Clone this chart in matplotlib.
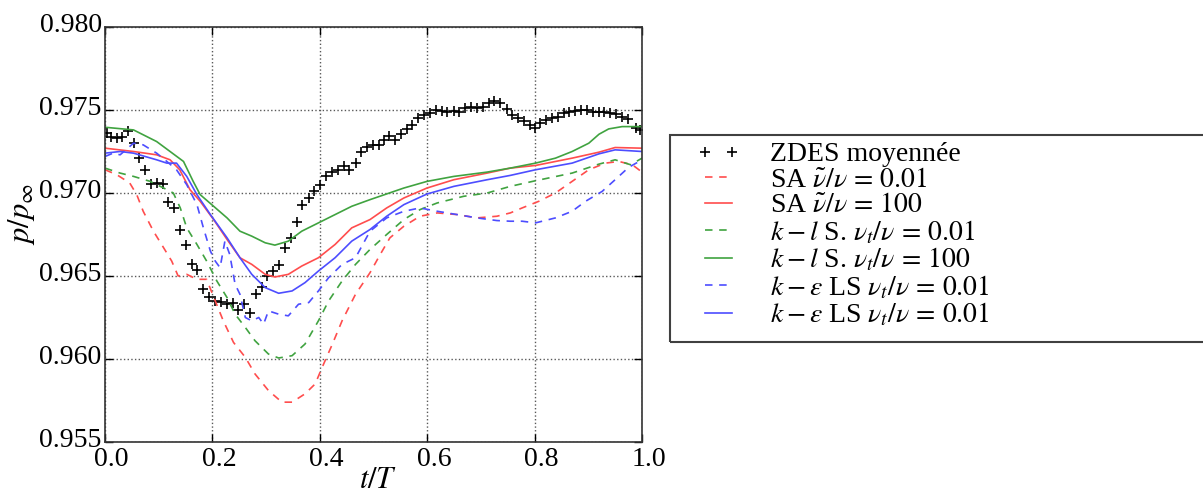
import matplotlib
matplotlib.use("Agg")
import matplotlib.pyplot as plt
import matplotlib.transforms as mtransforms
from matplotlib.patches import Rectangle

plt.rcParams['font.family'] = 'serif'
plt.rcParams['font.serif'] = ['Liberation Serif', 'DejaVu Serif']
plt.rcParams['mathtext.fontset'] = 'stix'

# ZDES averaged (markers)
t_zdes = [0.004, 0.013, 0.023, 0.032, 0.044, 0.054, 0.065, 0.075, 0.086, 0.097,
          0.108, 0.119, 0.129, 0.141, 0.152, 0.163, 0.173, 0.184, 0.195, 0.206,
          0.216, 0.227, 0.239, 0.249, 0.260, 0.271, 0.282, 0.293, 0.303, 0.314,
          0.325, 0.336, 0.347, 0.358, 0.368, 0.380, 0.390, 0.401, 0.412, 0.423,
          0.434, 0.445, 0.455, 0.467, 0.477, 0.488, 0.499, 0.510, 0.520, 0.530,
          0.541, 0.552, 0.563, 0.573, 0.584, 0.595, 0.606, 0.617, 0.628, 0.638,
          0.650, 0.660, 0.671, 0.682, 0.693, 0.704, 0.715, 0.725, 0.736, 0.749,
          0.758, 0.769, 0.780, 0.791, 0.800, 0.811, 0.822, 0.833, 0.843, 0.854,
          0.865, 0.876, 0.887, 0.898, 0.908, 0.920, 0.930, 0.941, 0.952, 0.963,
          0.974, 0.988, 0.997]
p_zdes = [0.9736, 0.9734, 0.97334, 0.9734, 0.97374, 0.9730, 0.9721, 0.9714, 0.97054, 0.9706,
          0.97054, 0.96946, 0.9691, 0.9678, 0.96684, 0.96574, 0.96534, 0.9642, 0.96374, 0.9635,
          0.96346, 0.96334, 0.9634, 0.96294, 0.96334, 0.9628, 0.9639, 0.96434, 0.9650, 0.9653,
          0.96566, 0.96666, 0.96726, 0.96826, 0.96926, 0.9697, 0.9701, 0.9705, 0.9710, 0.97126,
          0.9714, 0.9716, 0.9714, 0.9718, 0.9725, 0.9728, 0.9729, 0.9729, 0.9732, 0.97346,
          0.9732, 0.97354, 0.97386, 0.9741, 0.97454, 0.9747, 0.9748, 0.9750, 0.97494, 0.97486,
          0.97496, 0.97486, 0.9751, 0.9752, 0.97514, 0.9752, 0.9754, 0.97554, 0.9754, 0.97506,
          0.9747, 0.9745, 0.97434, 0.9741, 0.97394, 0.9742, 0.9744, 0.9745, 0.9746, 0.9748,
          0.9749, 0.97494, 0.9750, 0.9750, 0.97486, 0.97486, 0.97486, 0.9748, 0.97474, 0.9746,
          0.97446, 0.97394, 0.9738]

# SA nu~/nu = 0.01 (red dashed)
t_sa1 = [0.001, 0.023, 0.047, 0.060, 0.072, 0.091, 0.110, 0.125, 0.137, 0.153,
         0.172, 0.190, 0.206, 0.221, 0.240, 0.262, 0.280, 0.305, 0.330, 0.349,
         0.373, 0.392, 0.405, 0.424, 0.442, 0.467, 0.494, 0.513, 0.531, 0.557,
         0.587, 0.619, 0.656, 0.693, 0.730, 0.755, 0.777, 0.808, 0.839, 0.870,
         0.901, 0.932, 0.957, 0.982, 1.0]
p_sa1 = [0.9714, 0.9711, 0.9706, 0.9699, 0.9689, 0.9677, 0.9667, 0.9659, 0.9650, 0.9651,
         0.9648, 0.9648, 0.9635, 0.9623, 0.9610, 0.9601, 0.9591, 0.9581, 0.9574, 0.9574,
         0.9579, 0.9585, 0.9595, 0.9609, 0.9623, 0.9639, 0.9652, 0.9663, 0.9673, 0.9680,
         0.9686, 0.9688, 0.9687, 0.9685, 0.9686, 0.9688, 0.9691, 0.9695, 0.9700, 0.9707,
         0.9714, 0.9718, 0.9719, 0.9717, 0.97126]

# SA nu~/nu = 100 (red solid)
t_sa2 = [0.001, 0.054, 0.097, 0.122, 0.140, 0.159, 0.178, 0.203, 0.228, 0.252,
         0.274, 0.299, 0.317, 0.342, 0.367, 0.398, 0.429, 0.460, 0.494, 0.525,
         0.557, 0.600, 0.650, 0.712, 0.755, 0.802, 0.870, 0.920, 0.950, 1.0]
p_sa2 = [0.9727, 0.9725, 0.9723, 0.9720, 0.9714, 0.9702, 0.9695, 0.9684, 0.9672, 0.9661,
         0.9657, 0.9651, 0.96494, 0.9651, 0.9656, 0.9661, 0.9669, 0.9679, 0.9684, 0.9691,
         0.9697, 0.9703, 0.9708, 0.9712, 0.9715, 0.97166, 0.9721, 0.97246, 0.97274, 0.9727]

# k-l Smith nu_t/nu = 0.01 (green dashed)
t_kl1 = [0.001, 0.029, 0.054, 0.085, 0.110, 0.128, 0.141, 0.153, 0.172, 0.190,
         0.209, 0.228, 0.243, 0.262, 0.280, 0.305, 0.324, 0.349, 0.373, 0.398,
         0.417, 0.442, 0.467, 0.494, 0.525, 0.557, 0.587, 0.619, 0.668, 0.712,
         0.755, 0.802, 0.870, 0.920, 0.950, 0.979, 1.0]
p_kl1 = [0.9715, 0.9712, 0.9710, 0.9707, 0.9703, 0.9700, 0.9691, 0.9679, 0.9669, 0.9659,
         0.9647, 0.9637, 0.9627, 0.9619, 0.9611, 0.9603, 0.96006, 0.9602, 0.9609, 0.9623,
         0.9635, 0.9647, 0.9657, 0.9666, 0.9675, 0.9684, 0.9690, 0.9694, 0.9698, 0.9700,
         0.9704, 0.97074, 0.9712, 0.97174, 0.9720, 0.9717, 0.9721]

# k-l Smith nu_t/nu = 100 (green solid)
t_kl2 = [0.001, 0.054, 0.097, 0.122, 0.147, 0.165, 0.178, 0.203, 0.228, 0.252,
         0.274, 0.299, 0.317, 0.342, 0.367, 0.398, 0.429, 0.460, 0.494, 0.557,
         0.600, 0.650, 0.712, 0.755, 0.802, 0.839, 0.870, 0.901, 0.920, 0.938,
         0.963, 1.0]
p_kl2 = [0.97396, 0.9738, 0.9731, 0.9725, 0.9719, 0.9707, 0.9699, 0.9692, 0.9685, 0.9677,
         0.9674, 0.9670, 0.96686, 0.9671, 0.9677, 0.9682, 0.9687, 0.9692, 0.9696, 0.9703,
         0.9707, 0.9710, 0.97126, 0.9715, 0.9718, 0.9721, 0.9725, 0.9730, 0.97354, 0.97386,
         0.9740, 0.9740]

# k-eps LS nu_t/nu = 0.01 (blue dashed)
t_ke1 = [0.001, 0.016, 0.029, 0.054, 0.072, 0.097, 0.116, 0.134, 0.153, 0.172,
         0.184, 0.197, 0.206, 0.215, 0.224, 0.233, 0.243, 0.252, 0.262, 0.274,
         0.287, 0.296, 0.305, 0.324, 0.342, 0.361, 0.380, 0.398, 0.417, 0.442,
         0.467, 0.494, 0.525, 0.557, 0.587, 0.619, 0.656, 0.693, 0.730, 0.755,
         0.777, 0.802, 0.839, 0.870, 0.895, 0.926, 0.950, 0.975, 1.0]
p_ke1 = [0.9722, 0.9724, 0.9723, 0.9730, 0.9729, 0.9724, 0.9719, 0.9714, 0.9705, 0.9693,
         0.9679, 0.9665, 0.9659, 0.9655, 0.9671, 0.9663, 0.9645, 0.9639, 0.9625, 0.9623,
         0.9625, 0.9621, 0.9629, 0.9627, 0.9626, 0.9633, 0.9634, 0.9641, 0.9649, 0.9657,
         0.9661, 0.9677, 0.9685, 0.9689, 0.9691, 0.9689, 0.9687, 0.9685, 0.96834, 0.9683,
         0.9683, 0.9682, 0.9685, 0.9689, 0.9695, 0.9701, 0.9708, 0.97154, 0.9720]

# k-eps LS (blue solid)
t_ke2 = [0.001, 0.029, 0.054, 0.097, 0.116, 0.134, 0.153, 0.172, 0.197, 0.228,
         0.252, 0.274, 0.299, 0.324, 0.349, 0.373, 0.398, 0.429, 0.460, 0.494,
         0.525, 0.557, 0.600, 0.650, 0.712, 0.755, 0.802, 0.870, 0.920, 0.950, 1.0]
p_ke2 = [0.9724, 0.9725, 0.9724, 0.9720, 0.9718, 0.9718, 0.9710, 0.9699, 0.9687, 0.9673,
         0.9661, 0.9651, 0.9643, 0.96396, 0.9641, 0.9646, 0.9653, 0.9661, 0.9671, 0.9678,
         0.9686, 0.9693, 0.96994, 0.9704, 0.9708, 0.97106, 0.9714, 0.9718, 0.97236, 0.9726, 0.9725]

labels = ['ZDES moyennée',
          r'SA $\tilde{\nu}/\nu\,=\,0.01$',
          r'SA $\tilde{\nu}/\nu\,=\,100$',
          r'$k-l$ S. $\nu_t/\nu\,=\,0.01$',
          r'$k-l$ S. $\nu_t/\nu\,=\,100$',
          r'$k-\varepsilon$ LS $\nu_t/\nu\,=\,0.01$',
          r'$k-\varepsilon$ LS $\nu_t/\nu\,=\,0.01$']

red = (1.0, 0.3, 0.3)
green = (0.25, 0.64, 0.25)
blue = (0.3, 0.3, 1.0)
dash = (4.5, 4)

fig = plt.figure(figsize=(12.03, 4.93), dpi=100)
fig.patch.set_facecolor('white')
ax = fig.add_axes([104.5 / 1203, 51 / 493, 537.5 / 1203, 415 / 493])

h0, = ax.plot(t_zdes, p_zdes, '+', color='k', ms=6.5, mew=1.2, ls='none')
h1, = ax.plot(t_sa1, p_sa1, '--', color=red, lw=1.2, dashes=dash)
h2, = ax.plot(t_sa2, p_sa2, '-', color=red, lw=1.2)
h3, = ax.plot(t_kl1, p_kl1, '--', color=green, lw=1.2, dashes=dash)
h4, = ax.plot(t_kl2, p_kl2, '-', color=green, lw=1.2)
h5, = ax.plot(t_ke1, p_ke1, '--', color=blue, lw=1.2, dashes=dash)
h6, = ax.plot(t_ke2, p_ke2, '-', color=blue, lw=1.2)

ax.set_xlim(0, 1)
ax.set_ylim(0.955, 0.980)
ax.set_xticks([0.0, 0.2, 0.4, 0.6, 0.8, 1.0])
ax.set_yticks([0.955, 0.960, 0.965, 0.970, 0.975, 0.980])
ax.set_xticklabels(['0.0', '0.2', '0.4', '0.6', '0.8', '1.0'])
ax.set_yticklabels(['0.955', '0.960', '0.965', '0.970', '0.975', '0.980'])
ax.tick_params(direction='in', top=True, right=True, length=6, width=1,
               labelsize=20)
ax.tick_params(axis='y', pad=2)
ax.tick_params(axis='x', pad=3)
ax.grid(True, color='0.35', ls=':', lw=1)
for s in ax.spines.values():
    s.set_linewidth(1.2)
    s.set_color('0.2')

ax.set_xlabel(r'$t/T$', fontsize=22)
ax.set_ylabel(r'$p/p_{\infty}$', fontsize=22)
ax.xaxis.set_label_coords(0.51, -0.093)
ax.yaxis.set_label_coords(-0.155, 0.55)
ax.xaxis.label.set_va('center')
ax.yaxis.label.set_va('center')

# tick labels sit a little off their ticks in the original
off_x = mtransforms.ScaledTranslation(7 / 100, -1 / 100, fig.dpi_scale_trans)
off_y = mtransforms.ScaledTranslation(0, 5 / 100, fig.dpi_scale_trans)
for lab in ax.get_xticklabels():
    lab.set_transform(lab.get_transform() + off_x)
for lab in ax.get_yticklabels():
    lab.set_transform(lab.get_transform() + off_y)

# legend box runs past the right edge of the figure
fig.patches.append(Rectangle((670 / 1203, (493 - 342) / 493), 600 / 1203, 207 / 493,
                             transform=fig.transFigure, fill=False, lw=1.5,
                             ec='0.25', clip_on=False))
leg = fig.legend([h0, h1, h2, h3, h4, h5, h6], labels, loc='upper left',
                 bbox_to_anchor=(697 / 1203, (493 - 142) / 493), frameon=False,
                 fontsize=20, numpoints=2, handlelength=1.57, handletextpad=1.05,
                 labelspacing=0.0, borderpad=0.0, borderaxespad=0.0)

fig.savefig('out.png', dpi=100, facecolor='white')
